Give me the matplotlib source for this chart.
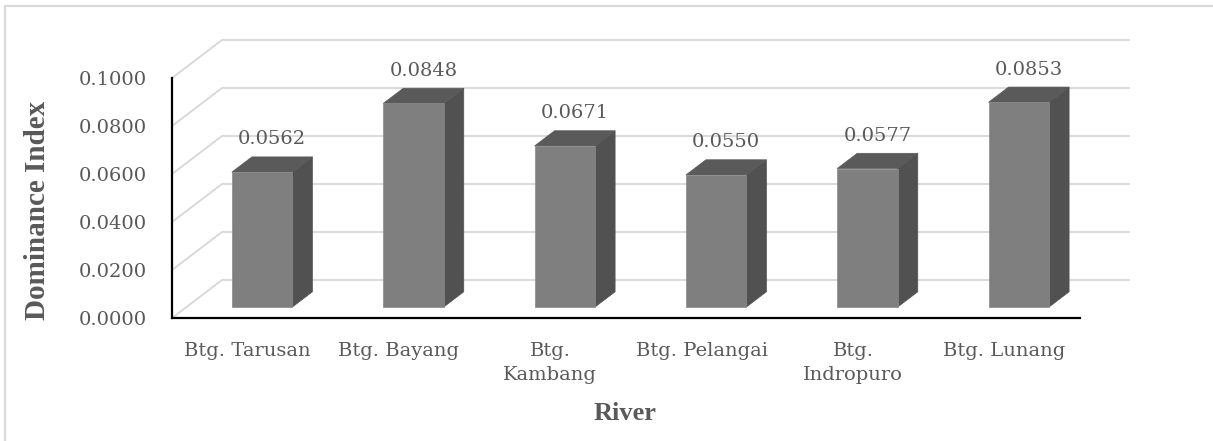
import matplotlib
matplotlib.use("Agg")
import matplotlib.pyplot as plt
from matplotlib.patches import Polygon, Rectangle
import numpy as np

categories = ["Btg. Tarusan", "Btg. Bayang", "Btg.\nKambang", "Btg. Pelangai", "Btg.\nIndropuro", "Btg. Lunang"]
values = [0.0562, 0.0848, 0.0671, 0.0550, 0.0577, 0.0853]
yticks = [0.0, 0.02, 0.04, 0.06, 0.08, 0.10]
xlabel = "River"
ylabel = "Dominance Index"

W, H = 1213, 441
fig = plt.figure(figsize=(W / 100, H / 100), dpi=100)
fig.patch.set_facecolor("white")

TXT = "#595959"
FRONT = "#7f7f7f"
TOP = "#5a5a5a"
SIDE = "#515151"
GRID = "#d9d9d9"

# axes in pixel layout
px_cat = 908 / 6.0
px_val = 2400.0
left_px, right_px, bottom_px, top_px = 172, 1131, 318, 38
ax = fig.add_axes([left_px / W, 1 - bottom_px / H, (right_px - left_px) / W, (bottom_px - top_px) / H])
xmin = -0.5
ax.set_xlim(xmin, xmin + (right_px - left_px) / px_cat)
ax.set_ylim(0, (bottom_px - top_px) / px_val)
ax.set_facecolor("none")

DX = 50 / px_cat   # back wall offset in category units
DY = 38 / px_val   # back wall offset in value units
f0 = 0.29          # bar front depth fraction
fd = 0.40          # bar depth fraction
bw = 0.40          # bar width

n = len(categories)
# back wall gridlines and diagonals
for v in yticks:
    ax.plot([xmin + DX, n - 0.5 + DX], [v + DY, v + DY], color=GRID, lw=1.4, zorder=1, solid_capstyle="butt")
    ax.plot([xmin, xmin + DX], [v, v + DY], color=GRID, lw=1.4, zorder=1)

x = np.arange(n)
xf = x + f0 * DX
yb = f0 * DY
ax.bar(xf, values, width=bw, bottom=yb, color=FRONT, edgecolor="#888888", linewidth=0.5, zorder=3)
for xi, v in zip(xf, values):
    x0, x1 = xi - bw / 2, xi + bw / 2
    ddx, ddy = fd * DX, fd * DY
    side = Polygon([(x1, yb), (x1 + ddx, yb + ddy), (x1 + ddx, yb + v + ddy), (x1, yb + v)],
                   closed=True, facecolor=SIDE, edgecolor=SIDE, lw=0.5, zorder=2.9)
    top = Polygon([(x0, yb + v), (x0 + ddx, yb + v + ddy), (x1 + ddx, yb + v + ddy), (x1, yb + v)],
                  closed=True, facecolor=TOP, edgecolor=TOP, lw=0.5, zorder=2.9)
    ax.add_patch(side)
    ax.add_patch(top)
    ax.annotate(f"{v:.4f}", xy=(xi + 0.5 * fd * DX, yb + v + fd * DY), xytext=(0, 9),
                textcoords="offset points", ha="center", va="baseline",
                fontsize=14, family="DejaVu Serif", color=TXT, zorder=5)

for s in ["top", "right"]:
    ax.spines[s].set_visible(False)
ax.spines["left"].set_bounds(0, 0.1)
ax.spines["bottom"].set_bounds(xmin, n - 0.5)
for s in ["left", "bottom"]:
    ax.spines[s].set_linewidth(1.6)
    ax.spines[s].set_color("black")
    ax.spines[s].set_zorder(4)

ax.set_yticks(yticks)
ax.set_yticklabels([f"{t:.4f}" for t in yticks])
ax.set_xticks(x)
ax.set_xticklabels(categories, multialignment="center", linespacing=1.45)
ax.tick_params(axis="y", length=0, pad=18, labelsize=14, labelcolor=TXT)
ax.tick_params(axis="x", length=0, pad=17, labelsize=14, labelcolor=TXT)
for lab in ax.get_xticklabels() + ax.get_yticklabels():
    lab.set_family("DejaVu Serif")

fig.text(38 / W, 1 - 210 / H, ylabel, rotation=90, ha="center", va="center",
         fontsize=21, fontweight="bold", family="Liberation Serif", color=TXT)
fig.text(625 / W, 1 - 414 / H, xlabel, ha="center", va="center",
         fontsize=19, fontweight="bold", family="Liberation Serif", color=TXT)

fig.patches.append(Rectangle((5 / W, -0.1), 2.0, 1.1 - 6 / H, transform=fig.transFigure,
                             fill=False, edgecolor=GRID, lw=1.5))

fig.savefig("out.png", dpi=100)
